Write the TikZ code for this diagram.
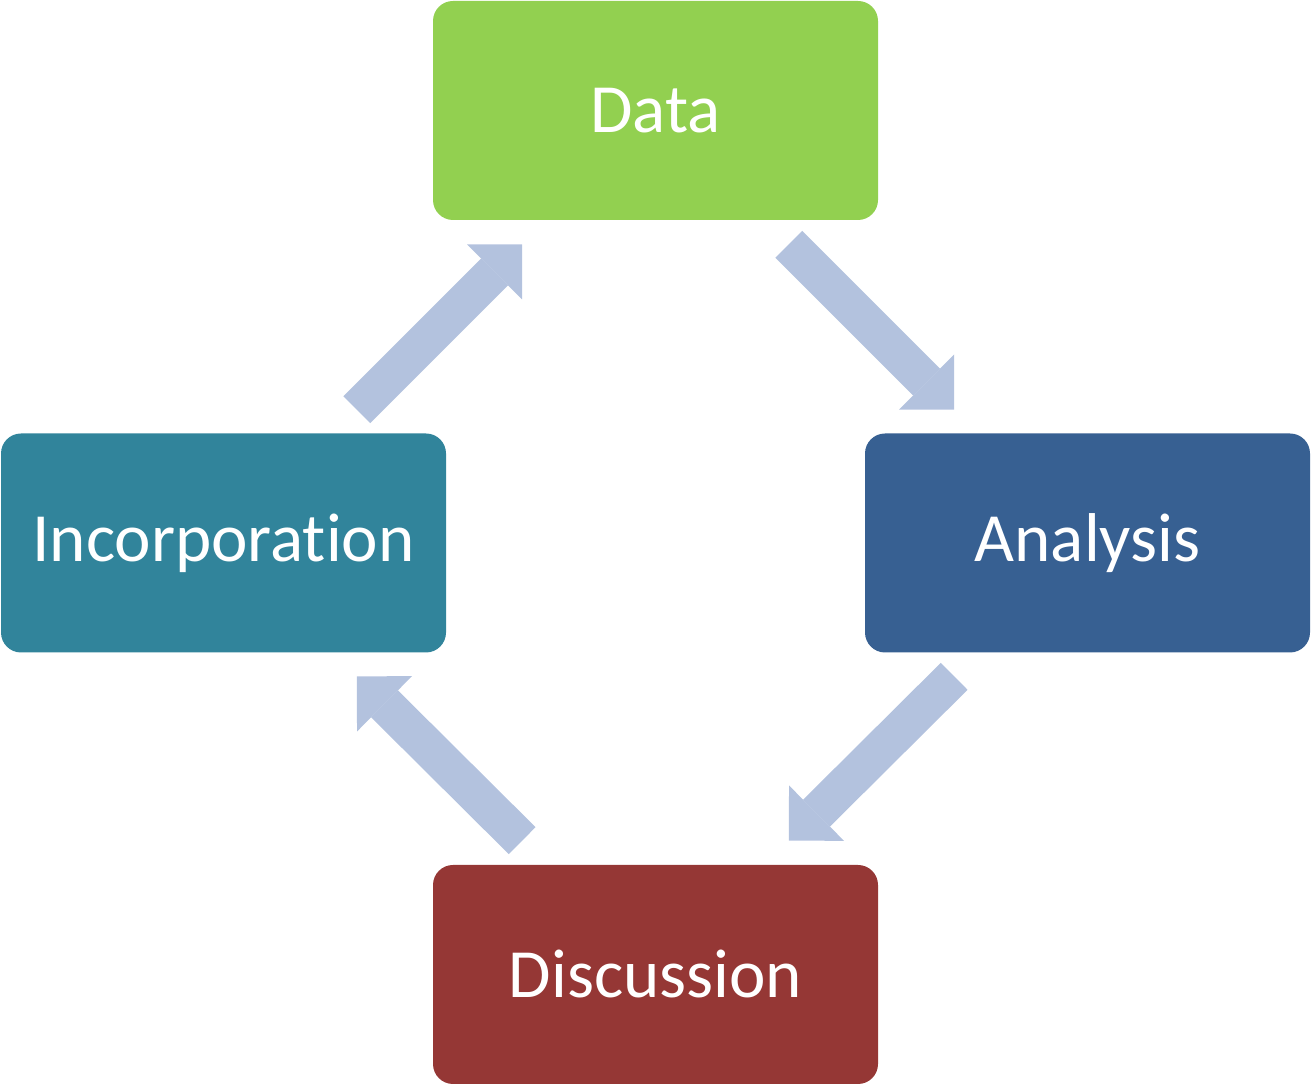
\documentclass[tikz,border=0pt]{standalone}
\usepackage{fontspec}
\setmainfont{Carlito}[Ligatures=NoCommon]
\usetikzlibrary{arrows.meta}
\definecolor{datagreen}{HTML}{92D050}
\definecolor{analysisblue}{HTML}{376092}
\definecolor{discussionred}{HTML}{953735}
\definecolor{incorpteal}{HTML}{31849B}
\definecolor{flowblue}{HTML}{B3C2DE}
\begin{document}
\begin{tikzpicture}[
  stage/.style={rectangle,rounded corners=0.4cm,minimum width=8.9cm,minimum height=4.38cm,
    inner sep=0pt,text=white,font=\fontsize{39.3}{47}\selectfont},
  flow/.style={draw=flowblue,line width=0.76cm,
    -{Triangle[length=0.78cm,width=1.56cm,line width=0pt]}}]
\useasboundingbox (0,0) rectangle (26.22,21.72);
  \node[stage,fill=datagreen] at (13.11,19.51) (data){Data};
  \node[stage,fill=analysisblue] at (21.75,10.86) (analysis){Analysis};
  \node[stage,fill=discussionred] at (13.11,2.23) (discussion){Discussion};
  \node[stage,fill=incorpteal] at (4.47,10.86) (incorp){Incorporation};

  \draw [flow] ([xshift=-1.79cm,yshift=-0.48cm]data.south east) -- ([xshift=1.79cm,yshift=0.47cm]analysis.north west);
  \draw [flow] ([xshift=1.79cm,yshift=-0.47cm]analysis.south west) -- ([xshift=-1.79cm,yshift=0.48cm]discussion.north east);
  \draw [flow] ([xshift=1.79cm,yshift=0.48cm]discussion.north west) -- ([xshift=-1.79cm,yshift=-0.47cm]incorp.south east);
  \draw [flow] ([xshift=-1.79cm,yshift=0.47cm]incorp.north east) -- ([xshift=1.79cm,yshift=-0.48cm]data.south west);
\end{tikzpicture}
\end{document}
